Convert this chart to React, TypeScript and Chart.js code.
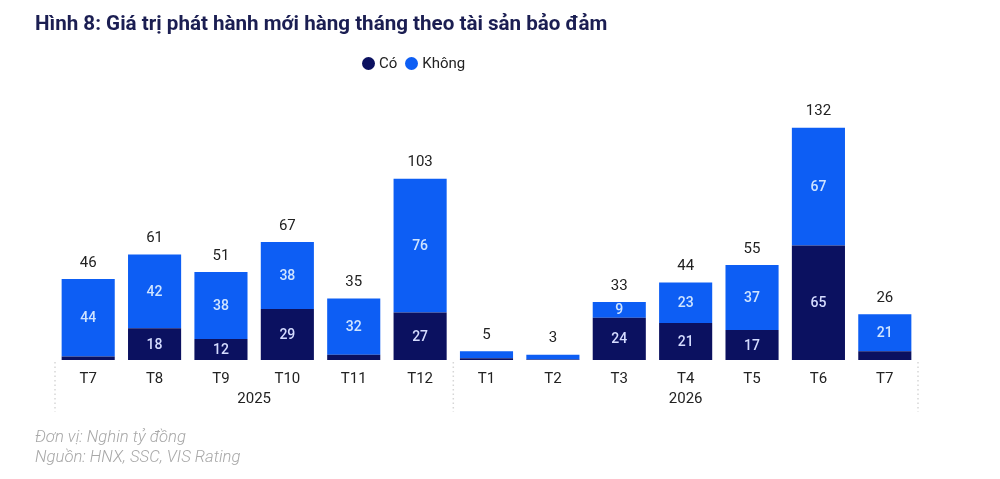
import React, { useEffect, useRef } from "react";
import { Chart, registerables } from "chart.js";

Chart.register(...registerables);

const categories = ["T7", "T8", "T9", "T10", "T11", "T12", "T1", "T2", "T3", "T4", "T5", "T6", "T7"];
const yearLabels = ["2025", "2026"];
const yearGroupSizes = [6, 7];
const coValues = [2, 18, 12, 29, 3, 27, 1, 0.3, 24, 21, 17, 65, 5];
const khongValues = [44, 42, 38, 38, 32, 76, 4, 2.7, 9, 23, 37, 67, 21];
const totals = [46, 61, 51, 67, 35, 103, 5, 3, 33, 44, 55, 132, 26];

const CO_COLOR = "#0b1160";
const KHONG_COLOR = "#0d5ef4";
const FONT = "Roboto, 'Noto Sans', sans-serif";

const labelsPlugin = {
  id: "customLabels",
  afterDatasetsDraw(chart: any) {
    const ctx = chart.ctx;
    ctx.save();
    ctx.textAlign = "center";
    ctx.textBaseline = "middle";
    chart.data.datasets.forEach((ds: any, di: number) => {
      const meta = chart.getDatasetMeta(di);
      meta.data.forEach((el: any, i: number) => {
        const v = ds.data[i];
        if (v < 8) return;
        const { x, y, base } = el.getProps(["x", "y", "base"], true);
        ctx.font = `500 14px ${FONT}`;
        ctx.fillStyle = di === 0 ? "#d5dcff" : "#cfe4ff";
        ctx.fillText(String(v), x, (y + base) / 2 + 1);
      });
    });
    const topMeta = chart.getDatasetMeta(chart.data.datasets.length - 1);
    topMeta.data.forEach((el: any, i: number) => {
      const { x, y } = el.getProps(["x", "y"], true);
      ctx.font = `400 15px ${FONT}`;
      ctx.fillStyle = "#222222";
      ctx.fillText(String(totals[i]), x, y - 16);
    });
    ctx.restore();
  },
  afterDraw(chart: any) {
    const ctx = chart.ctx;
    const xs = chart.scales.x;
    const bottom = chart.chartArea.bottom;
    const half = (xs.getPixelForValue(1) - xs.getPixelForValue(0)) / 2;
    ctx.save();
    const bounds: number[] = [];
    let start = 0;
    bounds.push(xs.getPixelForValue(0) - half);
    yearGroupSizes.forEach((n) => {
      start += n;
      bounds.push(xs.getPixelForValue(start - 1) + half);
    });
    ctx.strokeStyle = "#d6d6d6";
    ctx.lineWidth = 1.5;
    ctx.setLineDash([1.5, 3]);
    bounds.forEach((bx) => {
      ctx.beginPath();
      ctx.moveTo(bx, bottom + 2);
      ctx.lineTo(bx, bottom + 52);
      ctx.stroke();
    });
    ctx.setLineDash([]);
    ctx.font = `400 15px ${FONT}`;
    ctx.fillStyle = "#222222";
    ctx.textAlign = "center";
    ctx.textBaseline = "middle";
    let s = 0;
    yearGroupSizes.forEach((n, gi) => {
      const a = xs.getPixelForValue(s);
      const b = xs.getPixelForValue(s + n - 1);
      ctx.fillText(yearLabels[gi], (a + b) / 2, bottom + 39);
      s += n;
    });
    ctx.restore();
  },
};

export default function App() {
  const ref = useRef<HTMLCanvasElement | null>(null);
  useEffect(() => {
    document.body.style.margin = "0";
    if (!ref.current) return;
    const chart = new Chart(ref.current, {
      type: "bar",
      data: {
        labels: categories,
        datasets: [
          { label: "Có", data: coValues, backgroundColor: CO_COLOR, barPercentage: 0.8, categoryPercentage: 1 },
          { label: "Không", data: khongValues, backgroundColor: KHONG_COLOR, barPercentage: 0.8, categoryPercentage: 1 },
        ],
      },
      options: {
        responsive: true,
        maintainAspectRatio: false,
        animation: false,
        layout: { padding: { left: 55, right: 82, top: 96, bottom: 81 } },
        plugins: { legend: { display: false }, tooltip: { enabled: false }, title: { display: false } },
        scales: {
          x: {
            stacked: true,
            grid: { display: false, drawTicks: false },
            border: { display: false },
            ticks: { color: "#222222", font: { family: FONT, size: 15 }, padding: 10 },
          },
          y: { stacked: true, display: false, min: 0, max: 150 },
        },
      },
      plugins: [labelsPlugin],
    });
    return () => chart.destroy();
  }, []);

  const dot = (c: string) => ({
    display: "inline-block",
    width: 13,
    height: 13,
    borderRadius: "50%",
    background: c,
    marginRight: 4,
    verticalAlign: "middle",
  });

  return (
    <div style={{ position: "relative", width: 1000, height: 479, background: "#fff", fontFamily: FONT, overflow: "hidden" }}>
      <div style={{ position: "absolute", inset: 0 }}>
        <canvas ref={ref} />
      </div>
      <div style={{ position: "absolute", left: 35, top: 10, fontSize: 20.6, fontWeight: 700, color: "#1b1e52", whiteSpace: "nowrap", lineHeight: "26px" }}>
        Hình 8: Giá trị phát hành mới hàng tháng theo tài sản bảo đảm
      </div>
      <div style={{ position: "absolute", left: 362, top: 53, fontSize: 15, color: "#222", whiteSpace: "nowrap", lineHeight: "18px" }}>
        <span style={dot(CO_COLOR)} />
        <span style={{ verticalAlign: "middle", marginRight: 8 }}>Có</span>
        <span style={dot(KHONG_COLOR)} />
        <span style={{ verticalAlign: "middle" }}>Không</span>
      </div>
      <div style={{ position: "absolute", left: 35, top: 427, fontSize: 16.7, fontWeight: 300, fontStyle: "italic", color: "#a8a8a8", lineHeight: "19.5px", whiteSpace: "nowrap" }}>
        <div>Đơn vị: Nghin tỷ đồng</div>
        <div>Nguồn: HNX, SSC, VIS Rating</div>
      </div>
    </div>
  );
}
